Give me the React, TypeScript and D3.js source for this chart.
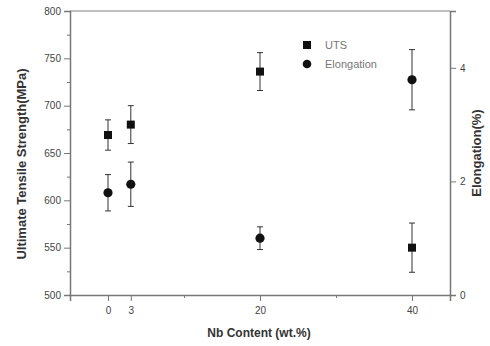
import { useEffect, useRef } from "react";
import * as d3 from "d3";

// Nb content (wt.%)
const xTickValues = [0, 3, 20, 40];
const xMinorTicks = [10, 30];

// UTS (MPa), squares, left axis
const utsX = [0, 3, 20, 40];
const utsValues = [669, 680, 736, 550];
const utsErrors = [16, 20, 20, 26];

// Elongation (%), circles, right axis
const elongX = [0, 3, 20, 40];
const elongValues = [1.8, 1.95, 1.0, 3.79];
const elongErrors = [0.32, 0.39, 0.2, 0.53];

const leftTicks = [500, 550, 600, 650, 700, 750, 800];
const leftMinor = [525, 575, 625, 675, 725, 775];
const rightTicks = [0, 2, 4];

const App = () => {
    const chartRef = useRef<SVGSVGElement>(null);

    useEffect(() => {
        const svg = d3.select(chartRef.current);
        svg.selectAll("*").remove();

        const width = 490;
        const height = 346;
        const margin = { top: 11, right: 40, bottom: 51, left: 70 };
        const axisColor = "#777";
        const font = "Arial, 'Liberation Sans', sans-serif";

        const x = d3.scaleLinear().domain([-5, 45]).range([margin.left, width - margin.right]);
        const yL = d3.scaleLinear().domain([500, 800]).range([height - margin.bottom, margin.top]);
        const yR = d3.scaleLinear().domain([0, 5]).range([height - margin.bottom, margin.top]);

        const plotBottom = height - margin.bottom;

        // Frame top line
        svg.append("line")
            .attr("x1", margin.left).attr("x2", width - margin.right)
            .attr("y1", margin.top).attr("y2", margin.top)
            .attr("stroke", "#aaa").attr("stroke-width", 1.5);

        // Left axis
        const left = svg.append("g")
            .attr("transform", `translate(${margin.left},0)`)
            .call(d3.axisLeft(yL).tickValues(leftTicks).tickSize(6).tickPadding(3).tickFormat(d3.format("d")));
        left.selectAll(".tick text").attr("font-size", 10).attr("font-family", font).attr("fill", "#444");
        svg.append("g")
            .attr("transform", `translate(${margin.left},0)`)
            .call(d3.axisLeft(yL).tickValues(leftMinor).tickSize(3).tickFormat(() => ""))
            .call((g) => g.select(".domain").remove());

        // Right axis
        const right = svg.append("g")
            .attr("transform", `translate(${width - margin.right},0)`)
            .call(d3.axisRight(yR).tickValues(rightTicks).tickSize(6).tickPadding(4).tickFormat(d3.format("d")));
        right.selectAll(".tick text").attr("font-size", 10).attr("font-family", font).attr("fill", "#444");

        // Bottom axis
        const bottom = svg.append("g")
            .attr("transform", `translate(0,${plotBottom})`)
            .call(d3.axisBottom(x).tickValues(xTickValues).tickSize(6).tickPadding(6).tickFormat(d3.format("d")));
        bottom.selectAll(".tick text").attr("font-size", 10).attr("font-family", font).attr("fill", "#444");
        svg.append("g")
            .attr("transform", `translate(0,${plotBottom})`)
            .call(d3.axisBottom(x).tickValues(xMinorTicks).tickSize(3).tickFormat(() => ""))
            .call((g) => g.select(".domain").remove());

        svg.selectAll(".domain").attr("stroke", axisColor).attr("stroke-width", 1.5);
        svg.selectAll(".tick line").attr("stroke", axisColor);

        // Error bars
        const drawErrors = (xs: number[], vals: number[], errs: number[], y: d3.ScaleLinear<number, number>) => {
            const g = svg.append("g").attr("stroke", "#333").attr("stroke-width", 1);
            xs.forEach((d, i) => {
                const cx = x(d);
                const top = y(vals[i] + errs[i]);
                const bot = y(vals[i] - errs[i]);
                g.append("line").attr("x1", cx).attr("x2", cx).attr("y1", top).attr("y2", bot);
                g.append("line").attr("x1", cx - 3).attr("x2", cx + 3).attr("y1", top).attr("y2", top);
                g.append("line").attr("x1", cx - 3).attr("x2", cx + 3).attr("y1", bot).attr("y2", bot);
            });
        };
        drawErrors(utsX, utsValues, utsErrors, yL);
        drawErrors(elongX, elongValues, elongErrors, yR);

        // UTS squares
        svg.selectAll("rect.uts")
            .data(utsValues)
            .enter()
            .append("rect")
            .attr("class", "uts")
            .attr("x", (d, i) => x(utsX[i]) - 4)
            .attr("y", (d) => yL(d) - 4)
            .attr("width", 8)
            .attr("height", 8)
            .attr("fill", "#111");

        // Elongation circles
        svg.selectAll("circle.elong")
            .data(elongValues)
            .enter()
            .append("circle")
            .attr("class", "elong")
            .attr("cx", (d, i) => x(elongX[i]))
            .attr("cy", (d) => yR(d))
            .attr("r", 4.6)
            .attr("fill", "#111");

        // Legend
        const legend = svg.append("g").attr("font-family", font).attr("font-size", 11).attr("fill", "#777");
        legend.append("rect").attr("x", 303).attr("y", 41).attr("width", 8).attr("height", 8).attr("fill", "#111");
        legend.append("text").attr("x", 325).attr("y", 49).text("UTS");
        legend.append("circle").attr("cx", 307).attr("cy", 64).attr("r", 4.3).attr("fill", "#111");
        legend.append("text").attr("x", 325).attr("y", 68).text("Elongation");

        // Axis titles
        svg.append("text")
            .attr("transform", "translate(26,164) rotate(-90)")
            .attr("text-anchor", "middle")
            .attr("font-family", font)
            .attr("font-size", 13)
            .attr("font-weight", "bold")
            .attr("fill", "#333")
            .text("Ultimate Tensile Strength(MPa)");

        svg.append("text")
            .attr("transform", "translate(481,153) rotate(-90)")
            .attr("text-anchor", "middle")
            .attr("font-family", font)
            .attr("font-size", 13)
            .attr("font-weight", "bold")
            .attr("fill", "#333")
            .text("Elongation(%)");

        svg.append("text")
            .attr("x", 259)
            .attr("y", 337)
            .attr("text-anchor", "middle")
            .attr("font-family", font)
            .attr("font-size", 12)
            .attr("font-weight", "bold")
            .attr("fill", "#333")
            .text("Nb Content (wt.%)");
    }, []);

    return (
        <div style={{ position: "absolute", left: 0, top: 0, width: 490, height: 346, background: "#fff" }}>
            <svg ref={chartRef} width={490} height={346}></svg>
        </div>
    );
};

export default App;
